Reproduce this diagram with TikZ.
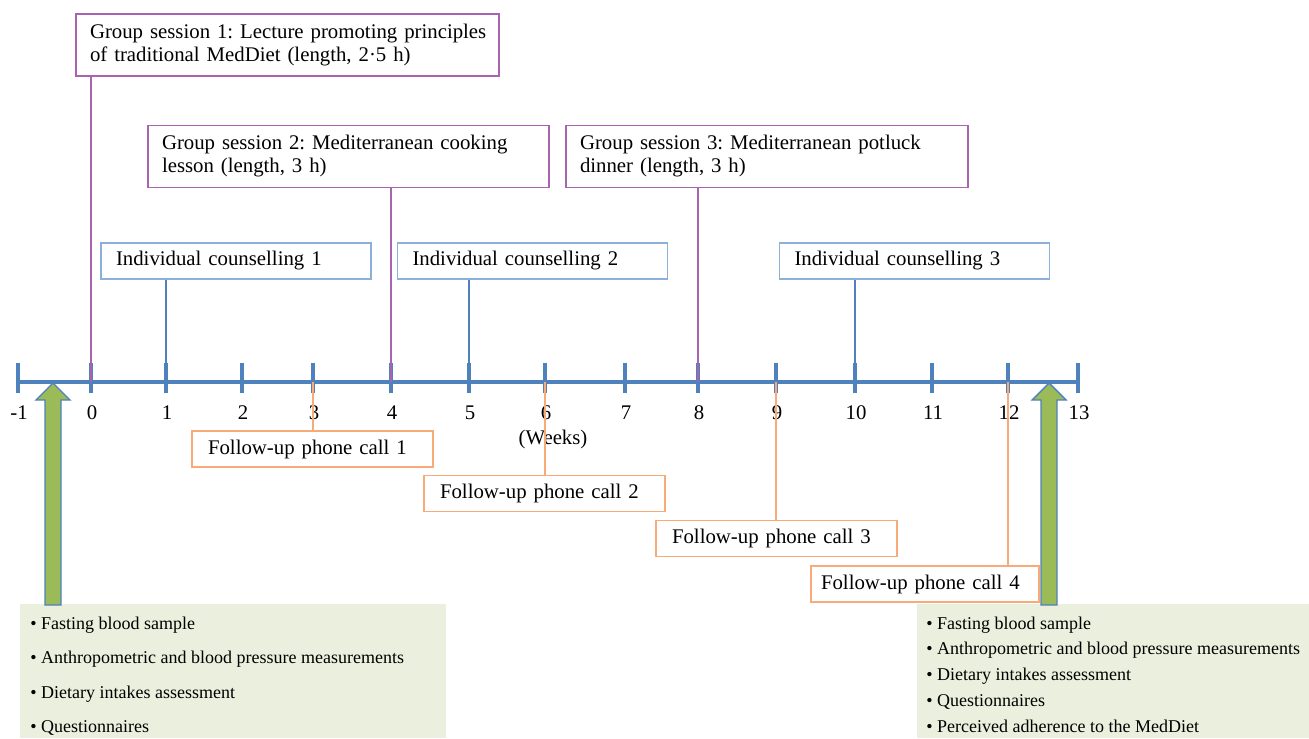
\documentclass[tikz,border=0pt]{standalone}
\usepackage{fontspec}
\setmainfont{Liberation Serif}
\frenchspacing
\hyphenpenalty=10000
\usetikzlibrary{positioning}
\definecolor{axisblue}{RGB}{79,129,189}
\definecolor{sessionpurple}{RGB}{170,100,175}
\definecolor{counselblue}{RGB}{140,175,220}
\definecolor{callorange}{RGB}{248,170,120}
\definecolor{panelgreen}{RGB}{235,240,222}
\definecolor{arrowgreen}{RGB}{155,187,89}
\tikzset{axisline/.style={line width=1.6pt, color=axisblue}}
\tikzset{session/.style={draw=sessionpurple, line width=0.9pt, align=left, inner xsep=7pt, minimum height=31pt, font=\fontsize{10.4}{11.5}\selectfont}}
\tikzset{counsel/.style={draw=counselblue, line width=0.8pt, align=left, inner xsep=7.5pt, text width=120pt, minimum height=18pt, font=\fontsize{10.4}{12}\selectfont}}
\tikzset{phonecall/.style={draw=callorange, line width=0.8pt, align=left, inner xsep=8pt, text width=104.5pt, minimum height=18pt, font=\fontsize{10.4}{12}\selectfont}}
\tikzset{link/.style={line width=0.6pt}}
\tikzset{panel/.style={fill=panelgreen, anchor=north west, inner sep=0pt, minimum height=67pt}}
\tikzset{item/.style={anchor=base west, inner sep=0pt, font=\fontsize{9}{10}\selectfont}}
\tikzset{weeklabel/.style={anchor=base, inner sep=0pt, font=\fontsize{10.4}{12}\selectfont}}
\tikzset{bigarrow/.style={fill=arrowgreen, draw=axisblue, line width=0.7pt}}

\begin{document}
\begin{tikzpicture}[x=0.5pt, y=-0.5pt]
    \useasboundingbox (0,0) rectangle (1309,738);

    % assessment panels
    \node[panel, minimum width=213pt] (pre) at (20,604) {};
    \node[panel, minimum width=196pt] (post) at (917,604) {};
    \foreach \txt [count=\i from 0] in {Fasting blood sample,
            Anthropometric and blood pressure measurements,
            Dietary intakes assessment, Questionnaires}
        \node[item] (pre\i) at (30,629+34.5*\i) {\textbullet\ \txt};
    \foreach \txt [count=\i from 0] in {Fasting blood sample,
            Anthropometric and blood pressure measurements,
            Dietary intakes assessment, Questionnaires,
            Perceived adherence to the MedDiet}
        \node[item] (post\i) at (926,629+25.75*\i) {\textbullet\ \txt};

    % time axis
    \foreach \x [count=\i from -1] in {18,91,166,242,313,391,469,545,625,698,776,855,932,1008,1078} {
        \coordinate (t\i) at (\x,382);
        \draw[axisline] (\x,363) -- (\x,393);
        \node[weeklabel] (n\i) at (\x+1,419) {\i};
    }
    \draw[axisline] (t-1) -- (t13);
    \node[weeklabel] (weeks) at (553,444) {(Weeks)};

    % group sessions
    \node[session, text width=197.5pt] (gs1) at (287.5,45)
        {\mbox{Group session 1: Lecture promoting principles}\\of traditional MedDiet (length, 2·5 h)};
    \node[session, text width=186.5pt] (gs2) at (348.5,156.5)
        {Group session 2: Mediterranean cooking\\lesson (length, 3 h)};
    \node[session, text width=187pt] (gs3) at (767,156.5)
        {Group session 3: Mediterranean potluck\\dinner (length, 3 h)};

    % counselling
    \node[counsel] (ic1) at (236,261) {Individual counselling 1};
    \node[counsel] (ic2) at (532.5,261) {Individual counselling 2};
    \node[counsel] (ic3) at (914.5,261) {Individual counselling 3};

    % phone calls
    \node[phonecall] (fu1) at (312.5,449) {Follow-up phone call 1};
    \node[phonecall] (fu2) at (544.5,493.5) {Follow-up phone call 2};
    \node[phonecall] (fu3) at (776.5,538.5) {Follow-up phone call 3};
    \node[phonecall, inner xsep=5pt, text width=104pt] (fu4) at (925,584) {Follow-up phone call 4};

    \draw[link, sessionpurple] (gs1.south -| t0) -- (t0);
    \draw[link, sessionpurple] (gs2.south -| t4) -- (t4);
    \draw[link, sessionpurple] (gs3.south -| t8) -- (t8);
    \draw[link, axisblue] (ic1.south -| t1) -- (t1);
    \draw[link, axisblue] (ic2.south -| t5) -- (t5);
    \draw[link, axisblue] (ic3.south -| t10) -- (t10);
    \draw[link, callorange] (t3) -- (fu1.north -| t3);
    \draw[link, callorange] (t6) -- (fu2.north -| t6);
    \draw[link, callorange] (t9) -- (fu3.north -| t9);
    \draw[link, callorange] (t12) -- (fu4.north -| t12);

    % assessment arrows
    \draw[bigarrow] (45,605) -- (45,400) -- (36,400) -- (53,383) -- (70,400) -- (61,400) -- (61,605) -- cycle;
    \draw[bigarrow] (1041,605) -- (1041,400) -- (1032,400) -- (1049,383) -- (1066,400) -- (1057,400) -- (1057,605) -- cycle;
\end{tikzpicture}
\end{document}
